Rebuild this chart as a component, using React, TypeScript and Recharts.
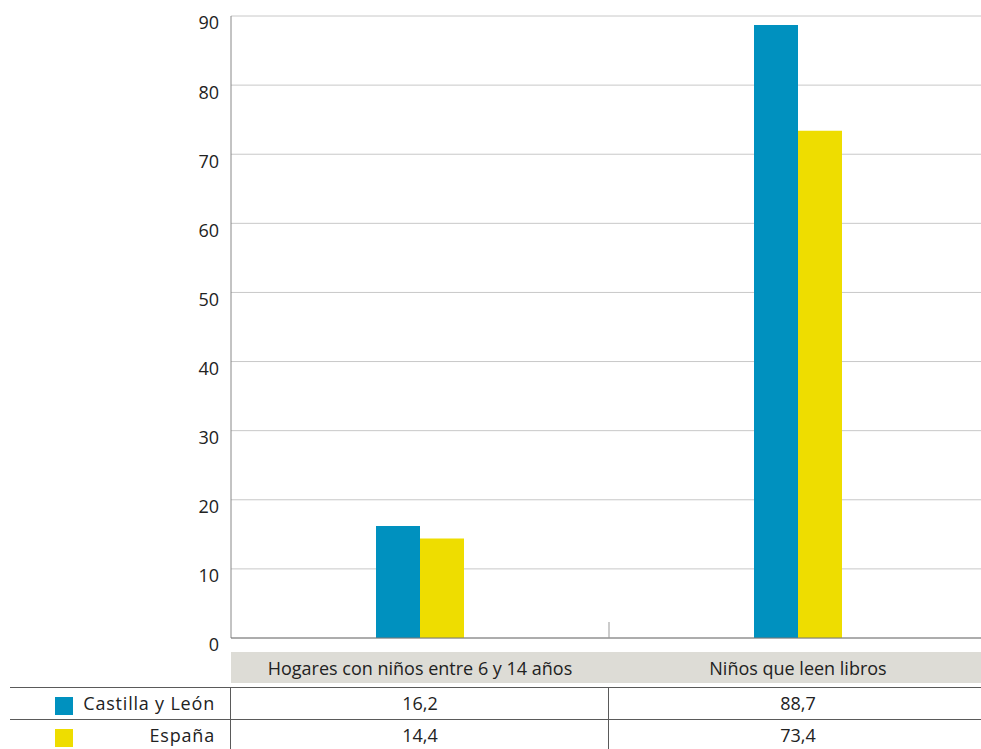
import { BarChart, Bar, XAxis, YAxis, CartesianGrid } from 'recharts';

const CATEGORIES = ['Hogares con niños entre 6 y 14 años', 'Niños que leen libros'];
const CASTILLA_LEON = [16.2, 88.7];
const ESPANA = [14.4, 73.4];
const Y_TICKS = [0, 10, 20, 30, 40, 50, 60, 70, 80, 90];

const SERIES = [
  { key: 'cyl', name: 'Castilla y León', color: '#0091bf', values: CASTILLA_LEON },
  { key: 'esp', name: 'España', color: '#eedd00', values: ESPANA },
];

const W = 981;
const H = 749;
const CHART_W = 987; // plot runs slightly past the page edge
const LEFT = 231;
const TOP = 16;
const BOTTOM = 638;
const BAND = (CHART_W - LEFT) / CATEGORIES.length;
const FONT = '"Open Sans", Lato, sans-serif';
const FS = 18;
const LINE = '#5a5a5a';

const data = CATEGORIES.map((c, i) => ({
  cat: c,
  cyl: CASTILLA_LEON[i],
  esp: ESPANA[i],
}));

const fmt = (v: number) => v.toFixed(1).replace('.', ',');

function CategoryTick(props: any) {
  const { x, payload, index } = props;
  return (
    <g>
      <rect x={x - BAND / 2} y={652} width={BAND} height={31} fill="#dddcd6" />
      <text
        x={x}
        y={668}
        textAnchor="middle"
        dominantBaseline="central"
        fill="#222"
        fontSize={FS}
        fontFamily={FONT}
      >
        {payload.value}
      </text>
      {index < CATEGORIES.length - 1 && (
        <line x1={x + BAND / 2} x2={x + BAND / 2} y1={622} y2={BOTTOM} stroke="#999" />
      )}
    </g>
  );
}

export default function App() {
  return (
    <div
      style={{
        position: 'absolute',
        left: 0,
        top: 0,
        width: W,
        height: H,
        overflow: 'hidden',
        fontFamily: FONT,
        background: '#fff',
      }}
    >
      <BarChart
        width={CHART_W}
        height={H}
        data={data}
        margin={{ top: TOP, right: 0, left: 0, bottom: 0 }}
        barGap={0}
      >
        <CartesianGrid vertical={false} stroke="#c8c8c8" />
        <YAxis
          type="number"
          domain={[0, 90]}
          ticks={Y_TICKS}
          width={LEFT}
          tickSize={0}
          tickMargin={12}
          axisLine={{ stroke: '#888' }}
          tickLine={false}
          tick={{ fill: '#222', fontSize: FS, fontFamily: FONT, dy: 7 }}
        />
        <XAxis
          dataKey="cat"
          height={H - BOTTOM}
          axisLine={{ stroke: '#777' }}
          tickLine={false}
          interval={0}
          tick={<CategoryTick />}
        />
        {SERIES.map(s => (
          <Bar key={s.key} dataKey={s.key} name={s.name} fill={s.color} barSize={44} isAnimationActive={false} />
        ))}
      </BarChart>

      {/* data table */}
      <div style={{ position: 'absolute', left: 10, top: 687, width: W - 10, height: 1, background: LINE }} />
      <div style={{ position: 'absolute', left: 10, top: 719, width: W - 10, height: 1, background: LINE }} />
      <div style={{ position: 'absolute', left: 230, top: 687, width: 1, height: H - 687, background: LINE }} />
      <div style={{ position: 'absolute', left: 608, top: 687, width: 1, height: H - 687, background: LINE }} />
      {SERIES.map((s, r) => {
        const top = 688 + r * 32;
        return (
          <div key={s.key}>
            <div style={{ position: 'absolute', left: 55, top: top + 9, width: 18, height: 18, background: s.color }} />
            <div
              style={{
                position: 'absolute',
                left: 76,
                width: 139,
                top,
                height: 31,
                lineHeight: '31px',
                textAlign: 'right',
                fontSize: FS,
                letterSpacing: 0.8,
                color: '#222',
                whiteSpace: 'nowrap',
              }}
            >
              {s.name}
            </div>
            {s.values.map((v, i) => (
              <div
                key={i}
                style={{
                  position: 'absolute',
                  left: LEFT + i * BAND,
                  width: BAND,
                  top,
                  height: 31,
                  lineHeight: '31px',
                  textAlign: 'center',
                  fontSize: FS,
                  color: '#222',
                }}
              >
                {fmt(v)}
              </div>
            ))}
          </div>
        );
      })}
    </div>
  );
}
